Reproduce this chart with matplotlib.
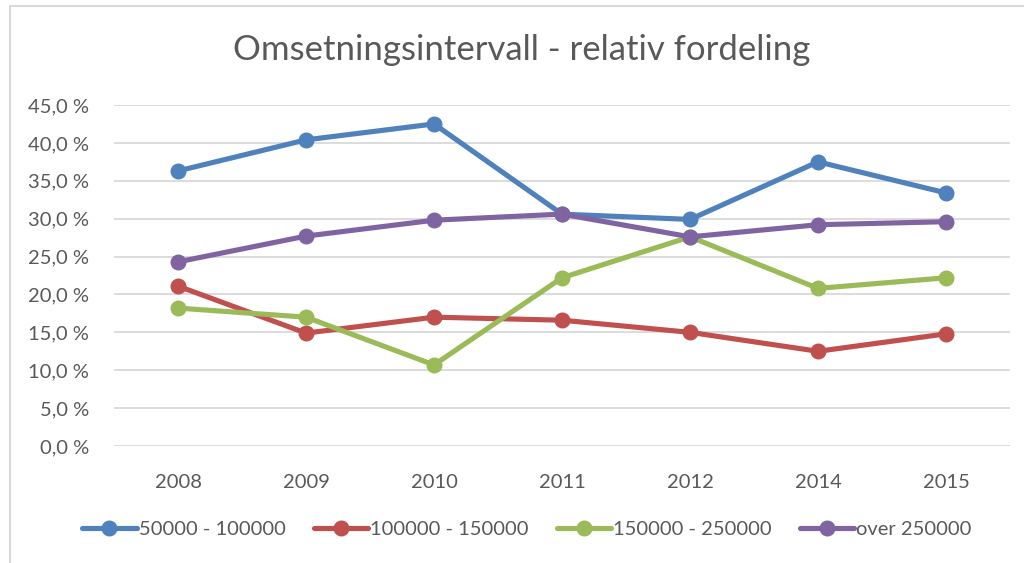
import matplotlib
matplotlib.use("Agg")
import matplotlib.pyplot as plt
from matplotlib.ticker import FuncFormatter
from matplotlib.patches import Rectangle

years = ["2008", "2009", "2010", "2011", "2012", "2014", "2015"]
s1 = [36.3, 40.4, 42.5, 30.6, 29.9, 37.5, 33.4]
s2 = [21.1, 14.9, 17.0, 16.6, 15.0, 12.5, 14.8]
s3 = [18.2, 17.0, 10.7, 22.2, 27.6, 20.8, 22.2]
s4 = [24.3, 27.7, 29.8, 30.6, 27.6, 29.2, 29.6]
names = ["50000 - 100000", "100000 - 150000", "150000 - 250000", "over 250000"]
colors = ["#4F81BD", "#C0504D", "#9BBB59", "#8064A2"]
title = "Omsetningsintervall - relativ fordeling"

plt.rcParams['font.family'] = ['Lato', 'DejaVu Sans']
txt = "#595959"

fig = plt.figure(figsize=(10.24, 5.63), dpi=100)
fig.patches.append(Rectangle((10/1024, -0.05), 1.2, 1 - 6/563 + 0.05,
                             transform=fig.transFigure, fill=False,
                             edgecolor="#D9D9D9", linewidth=1.5))
ax = fig.add_axes([114/1024, 1 - 446/563, (1010 - 114)/1024, (446 - 105)/563])
x = list(range(len(years)))
for vals, name, c in zip([s1, s2, s3, s4], names, colors):
    ax.plot(x, vals, color=c, linewidth=3.7, marker='o', markersize=10.5,
            label=name, solid_capstyle='round', zorder=3)

ax.set_xlim(-0.5, len(years) - 0.5)
ax.set_ylim(0, 45)
ax.set_yticks([i * 5 for i in range(10)])
ax.yaxis.set_major_formatter(FuncFormatter(lambda v, p: f"{v:.1f} %".replace('.', ',')))
ax.set_xticks(x)
ax.set_xticklabels(years)
ax.grid(axis='y', color="#D9D9D9", linewidth=1.3)
ax.set_axisbelow(True)
for s in ax.spines.values():
    s.set_visible(False)
ax.tick_params(axis='both', length=0, labelsize=14.5, colors=txt)
ax.tick_params(axis='y', pad=18)
ax.tick_params(axis='x', pad=20)

fig.text(522/1024, 1 - 50/563, title, ha='center', va='center', fontsize=25, color=txt)
fig.legend(loc='center', bbox_to_anchor=(527/1024, 1 - 529/563), ncol=4, frameon=False,
           fontsize=14.5, labelcolor=txt, handlelength=2.7, handletextpad=0.1,
           columnspacing=1.4)
fig.savefig("out.png", dpi=100)
